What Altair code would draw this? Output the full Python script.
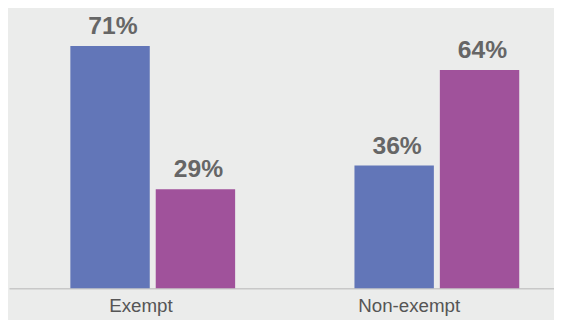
import altair as alt
import pandas as pd

categories = ["Exempt", "Exempt", "Non-exempt", "Non-exempt"]
series = ["A", "B", "A", "B"]
values = [71, 29, 36, 64]
labels = ["71%", "29%", "36%", "64%"]

df = pd.DataFrame({"cat": categories, "series": series, "value": values, "label": labels})

x = alt.X("cat:N", title=None,
          scale=alt.Scale(range=[1, 581], paddingInner=0.42, paddingOuter=0.216),
          axis=alt.Axis(labelAngle=0, labelFontSize=19, labelColor="#555555", labelFont="Liberation Sans",
                        domainColor="#c8c8c8", domainWidth=1.5, ticks=False, labelPadding=9,
                        labelOffset={"condition": {"test": "datum.value == 'Exempt'", "value": -12}, "value": -28}))
xo = alt.XOffset("series:N", scale=alt.Scale(paddingInner=0.07, paddingOuter=0))
y = alt.Y("value:Q", scale=alt.Scale(domain=[0, 81.5]), axis=None)

bars = alt.Chart(df).mark_bar().encode(
    x=x, xOffset=xo, y=y,
    color=alt.Color("series:N", scale=alt.Scale(domain=["A", "B"], range=["#6276b8", "#a0529b"]), legend=None),
)
text = alt.Chart(df).mark_text(dy=-12, dx=3, baseline="alphabetic", fontSize=25, fontWeight="bold",
                               color="#666666", font="Liberation Sans").encode(
    x=x, xOffset=xo, y=y, text="label:N"
)

chart = alt.layer(bars, text).properties(
    width=554, height=282, background="#ebeceb",
    autosize=alt.AutoSizeParams(type="none"),
    padding={"left": 0, "top": 0, "right": 0, "bottom": 30},
).configure_view(stroke=None).configure_axis(grid=False)

chart.save("out.html", embed_options={"renderer": "svg", "actions": False})
